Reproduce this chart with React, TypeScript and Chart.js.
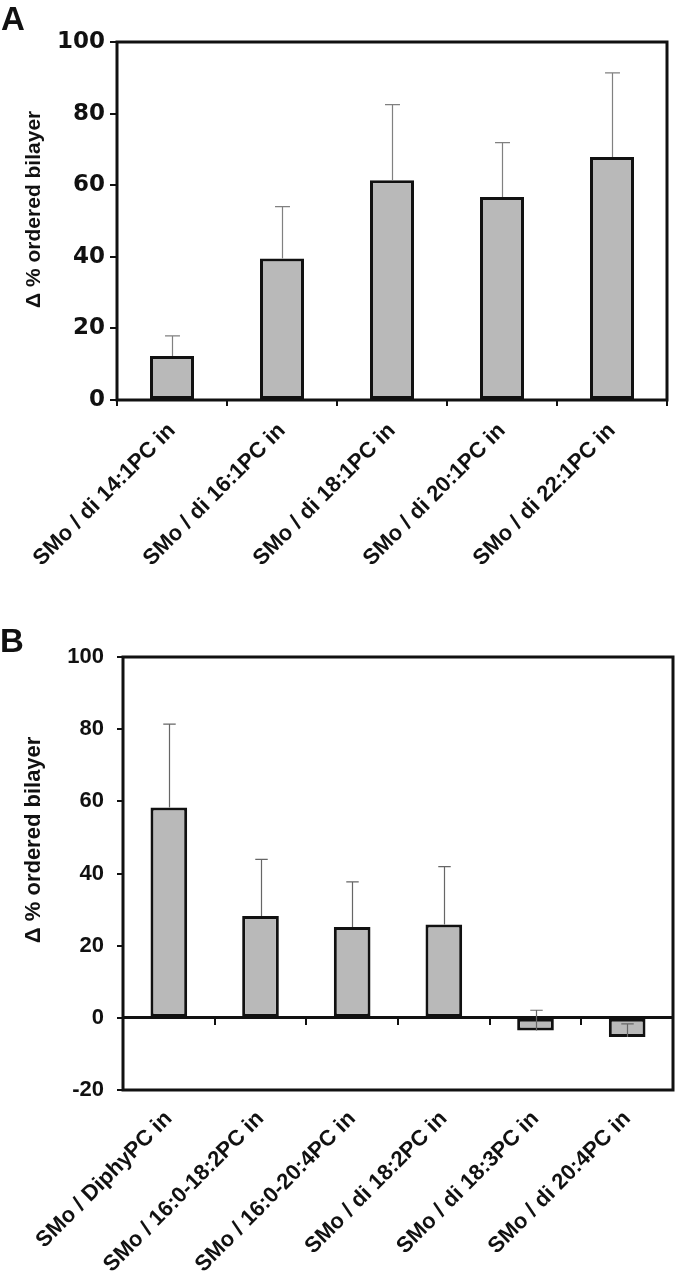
import React, { useEffect, useRef } from 'react';
import { Chart, registerables } from 'chart.js';

Chart.register(...registerables);

// ---- Panel A data ----
const labelsA = [
  'SMo / di 14:1PC in',
  'SMo / di 16:1PC in',
  'SMo / di 18:1PC in',
  'SMo / di 20:1PC in',
  'SMo / di 22:1PC in',
];
const valuesA = [12.3, 39.5, 61.4, 56.7, 67.9];
const errorsA = [5.6, 14.5, 21.1, 15.2, 23.5];
const yTicksA = [0, 20, 40, 60, 80, 100];

// ---- Panel B data ----
const labelsB = [
  'SMo / DiphyPC in',
  'SMo / 16:0-18:2PC in',
  'SMo / 16:0-20:4PC in',
  'SMo / di 18:2PC in',
  'SMo / di 18:3PC in',
  'SMo / di 20:4PC in',
];
const valuesB = [58.3, 28.2, 25.2, 25.9, -3.5, -5.3];
const errorsB = [23.1, 15.7, 12.5, 16.0, 5.6, 3.6];
const yTicksB = [-20, 0, 20, 40, 60, 80, 100];

const yTitle = 'Δ % ordered bilayer';

const SANS = '"Liberation Sans", Arial, Helvetica, sans-serif';
const WIDE = '"DejaVu Sans", "Liberation Sans", sans-serif';
const INK = '#111';
const BAR = '#b9b9b9';

function errorBars(errors: number[], color: string) {
  return {
    id: 'errorBars',
    afterDatasetsDraw(chart: any) {
      const ctx = chart.ctx;
      const meta = chart.getDatasetMeta(0);
      const data = chart.data.datasets[0].data as number[];
      const yScale = chart.scales.y;
      ctx.save();
      ctx.strokeStyle = color;
      ctx.lineWidth = 1.2;
      meta.data.forEach((bar: any, i: number) => {
        const x = Math.round(bar.x) + 0.5;
        const yEnd = yScale.getPixelForValue(data[i] + errors[i]);
        const half = bar.width * 0.17;
        ctx.beginPath();
        ctx.moveTo(x, bar.y);
        ctx.lineTo(x, yEnd);
        ctx.moveTo(x - half, yEnd);
        ctx.lineTo(x + half, yEnd);
        ctx.stroke();
      });
      ctx.restore();
    },
  };
}

const frame = {
  id: 'frame',
  afterDatasetsDraw(chart: any) {
    const { ctx, chartArea: a } = chart;
    ctx.save();
    ctx.strokeStyle = INK;
    ctx.lineWidth = 3;
    ctx.strokeRect(a.left, a.top, a.right - a.left, a.bottom - a.top);
    ctx.restore();
  },
};

function dataset(values: number[]) {
  return {
    data: values,
    backgroundColor: BAR,
    borderColor: INK,
    borderWidth: 3,
    borderSkipped: false,
    barPercentage: 0.4,
    categoryPercentage: 1,
  };
}

function makeA(canvas: HTMLCanvasElement) {
  return new Chart(canvas, {
    type: 'bar',
    data: { labels: labelsA, datasets: [dataset(valuesA) as any] },
    options: {
      responsive: false,
      animation: false,
      devicePixelRatio: 1,
      layout: { padding: { top: 42, right: 10, bottom: 0, left: 0 } },
      plugins: { legend: { display: false }, tooltip: { enabled: false } },
      scales: {
        x: {
          type: 'category',
          offset: true,
          grid: { display: true, offset: true, drawOnChartArea: false, drawTicks: true, tickLength: 6, color: INK, lineWidth: 2 },
          border: { display: false },
          ticks: {
            autoSkip: false, maxRotation: 45, minRotation: 45, padding: 12, color: INK,
            font: { family: SANS, size: 22, weight: 'bold' },
          },
          afterFit: (s: any) => { s.height = 220; },
        },
        y: {
          min: yTicksA[0],
          max: yTicksA[yTicksA.length - 1],
          afterBuildTicks: (s: any) => { s.ticks = yTicksA.map((v) => ({ value: v })); },
          grid: { display: true, drawOnChartArea: false, drawTicks: true, tickLength: 7, color: INK, lineWidth: 2 },
          border: { display: false },
          ticks: { padding: 5, color: INK, font: { family: WIDE, size: 23, weight: 'bold' } },
          title: {
            display: true, text: '    ' + yTitle, color: INK,
            font: { family: SANS, size: 21, weight: 'bold' },
            padding: { top: 22, bottom: 0 },
          },
          afterFit: (s: any) => { s.width = 117; },
        },
      },
    } as any,
    plugins: [errorBars(errorsA, '#808080'), frame],
  });
}

function makeB(canvas: HTMLCanvasElement) {
  return new Chart(canvas, {
    type: 'bar',
    data: { labels: labelsB, datasets: [dataset(valuesB) as any] },
    options: {
      responsive: false,
      animation: false,
      devicePixelRatio: 1,
      layout: { padding: { top: 37, right: 4, bottom: 0, left: 0 } },
      plugins: { legend: { display: false }, tooltip: { enabled: false } },
      scales: {
        x: {
          type: 'category',
          offset: true,
          grid: { display: false, drawTicks: false, offset: true },
          border: { display: false },
          ticks: {
            autoSkip: false, maxRotation: 45, minRotation: 45, padding: 16, color: INK,
            font: { family: SANS, size: 22, weight: 'bold' },
          },
          afterFit: (s: any) => { s.height = 190; },
        },
        x0: {
          type: 'category',
          axis: 'x',
          position: { y: 0 },
          offset: true,
          grid: { display: true, offset: true, drawOnChartArea: false, drawTicks: true, tickLength: 6, color: INK, lineWidth: 2 },
          border: { display: true, color: INK, width: 3 },
          ticks: { display: false },
        },
        y: {
          min: yTicksB[0],
          max: yTicksB[yTicksB.length - 1],
          afterBuildTicks: (s: any) => { s.ticks = yTicksB.map((v) => ({ value: v })); },
          grid: { display: true, drawOnChartArea: false, drawTicks: true, tickLength: 6, color: INK, lineWidth: 2 },
          border: { display: false },
          ticks: { padding: 13, color: INK, font: { family: SANS, size: 22, weight: 'bold' } },
          title: {
            display: true, text: '           ' + yTitle, color: INK,
            font: { family: SANS, size: 22, weight: 'bold' },
            padding: { top: 21, bottom: 0 },
          },
          afterFit: (s: any) => { s.width = 123; },
        },
      },
    } as any,
    plugins: [errorBars(errorsB, '#666666'), frame],
  });
}

export default function App() {
  const refA = useRef<HTMLCanvasElement>(null);
  const refB = useRef<HTMLCanvasElement>(null);

  useEffect(() => {
    const a = makeA(refA.current!);
    const b = makeB(refB.current!);
    return () => {
      a.destroy();
      b.destroy();
    };
  }, []);

  const letter: React.CSSProperties = {
    position: 'absolute',
    fontFamily: SANS,
    fontWeight: 'bold',
    fontSize: 33,
    lineHeight: '33px',
    color: INK,
  };

  return (
    <div style={{ position: 'absolute', left: 0, top: 0, width: 677, height: 1280, background: '#fff', overflow: 'hidden' }}>
      <canvas ref={refA} width={677} height={620} style={{ position: 'absolute', left: 0, top: 0, width: 677, height: 620 }} />
      <canvas ref={refB} width={677} height={660} style={{ position: 'absolute', left: 0, top: 620, width: 677, height: 660 }} />
      <div style={{ ...letter, left: 1, top: 2 }}>A</div>
      <div style={{ ...letter, left: 0, top: 624 }}>B</div>
    </div>
  );
}
